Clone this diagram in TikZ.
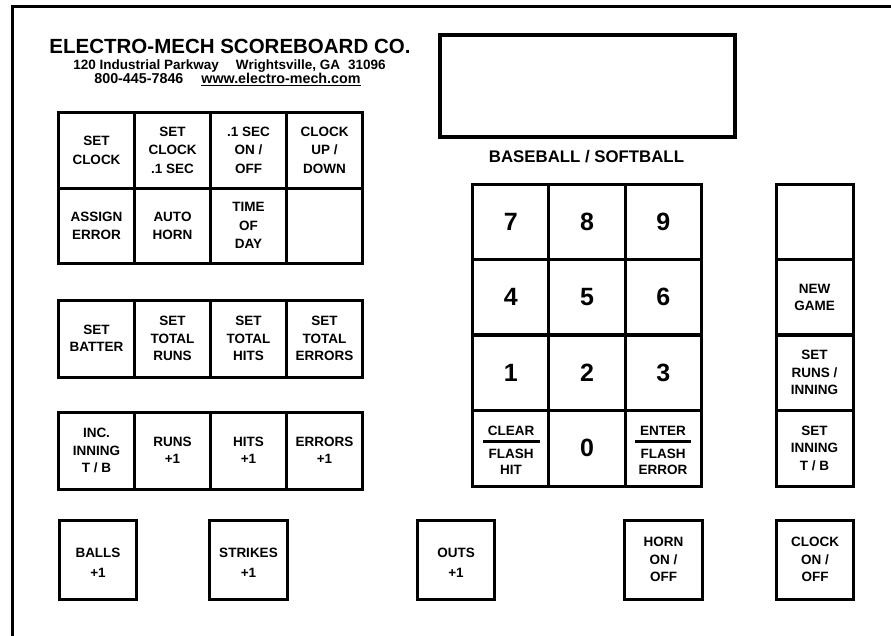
\documentclass[tikz,border=0pt]{standalone}
\usepackage{fontspec}
\setmainfont{Liberation Sans}
\begin{document}
\begin{tikzpicture}[x=1pt,y=-1pt,
  key/.style={draw, line width=3pt, inner sep=0pt, outer sep=0pt,
    minimum width=76pt, minimum height=75.5pt, align=center,
    font=\bfseries\fontsize{13.5}{17.5}\selectfont},
  keyA/.style={key, font=\bfseries\fontsize{13.5}{18.5}\selectfont},
  keyB/.style={key, minimum height=77pt},
  keyP/.style={key, minimum width=76.3pt, minimum height=75.5pt},
  digit/.style={font=\bfseries\fontsize{25}{30}\selectfont},
  small/.style={inner sep=0pt, outer sep=0pt, anchor=base, font=\bfseries\fontsize{13.5}{16}\selectfont},
  bot/.style={key, minimum width=77.5pt, minimum height=79pt},
  bottwo/.style={bot, execute at begin node={\vspace*{0pt}}},
]
\useasboundingbox (0,0) rectangle (891,635);
\clip (0,0) rectangle (891,635);
\fill[white] (0,0) rectangle (891,635);
% outer frame
\draw[line width=3pt] (12,645) -- (12,6) -- (900,6);

% heading
\node[inner sep=0pt, anchor=base, font=\bfseries\fontsize{20.5}{24}\selectfont] (title) at (230,53.3) {ELECTRO-MECH SCOREBOARD CO.};
\node[inner sep=0pt, anchor=base, font=\bfseries\fontsize{13.5}{16}\selectfont] (addr) at (229.5,69) {120 Industrial Parkway\hspace{17pt}Wrightsville, GA\hspace{8pt}31096};
\node[inner sep=0pt, anchor=base, font=\bfseries\fontsize{14.3}{16}\selectfont] (phone) at (227.5,83.3) {800-445-7846\hspace{18pt}\underline{www.electro-mech.com}};

% display
\node[draw, line width=3.5pt, inner sep=0pt, minimum width=295pt, minimum height=102pt] (display) at (587.5,86) {};
\node[inner sep=0pt, anchor=base, font=\bfseries\fontsize{16.8}{20}\selectfont] (sport) at (586.5,162.3) {BASEBALL / SOFTBALL};

% group A
\node[keyA] (a1) at (96.5,150.25) {SET\\CLOCK};
\node[keyA] (a2) at (172.5,150.25) {SET\\CLOCK\\.1 SEC};
\node[keyA] (a3) at (248.5,150.25) {.1 SEC\\ON /\\OFF};
\node[keyA] (a4) at (324.5,150.25) {CLOCK\\UP /\\DOWN};
\node[keyA] (a5) at (96.5,225.75) {ASSIGN\\ERROR};
\node[keyA] (a6) at (172.5,225.75) {AUTO\\HORN};
\node[keyA] (a7) at (248.5,225.75) {TIME\\OF\\DAY};
\node[keyA] (a8) at (324.5,225.75) {};

% group B
\node[keyB] (b1) at (96.5,338.5) {SET\\BATTER};
\node[keyB] (b2) at (172.5,338.5) {SET\\TOTAL\\RUNS};
\node[keyB] (b3) at (248.5,338.5) {SET\\TOTAL\\HITS};
\node[keyB] (b4) at (324.5,338.5) {SET\\TOTAL\\ERRORS};

% group C
\node[keyB] (c1) at (96.5,450.5) {INC.\\INNING\\T / B};
\node[keyB] (c2) at (172.5,450.5) {RUNS\\+1};
\node[keyB] (c3) at (248.5,450.5) {HITS\\+1};
\node[keyB] (c4) at (324.5,450.5) {ERRORS\\+1};

% keypad
\node[keyP, digit] (k7) at (510.75,221.75) {7};
\node[keyP, digit] (k8) at (587,221.75) {8};
\node[keyP, digit] (k9) at (663.25,221.75) {9};
\node[keyP, digit] (k4) at (510.75,297.25) {4};
\node[keyP, digit] (k5) at (587,297.25) {5};
\node[keyP, digit] (k6) at (663.25,297.25) {6};
\node[keyP, digit] (k1) at (510.75,372.5) {1};
\node[keyP, digit] (k2) at (587,372.5) {2};
\node[keyP, digit] (k3) at (663.25,372.5) {3};
\node[keyP, minimum height=76pt] (kclr) at (510.75,448) {};
\node[keyP, digit, minimum height=76pt] (k0) at (587,448) {0};
\node[keyP, minimum height=76pt] (kent) at (663.25,448) {};
\node[small] (clr) at (511,435) {CLEAR};
\draw[line width=3pt] (483,441.7) -- (540,441.7);
\node[small] (flh1) at (511,458) {FLASH};
\node[small] (flh2) at (511,474.3) {HIT};
\node[small] (ent) at (663,435) {ENTER};
\draw[line width=3pt] (635,441.7) -- (691,441.7);
\node[small] (fle1) at (663,458) {FLASH};
\node[small] (fle2) at (663,474.3) {ERROR};

% right column
\node[keyP, minimum width=77pt] (r1) at (814.5,221.75) {};
\node[keyP, minimum width=77pt] (r2) at (814.5,297.25) {NEW\\GAME};
\node[keyP, minimum width=77pt] (r3) at (814.5,372.5) {SET\\RUNS /\\INNING};
\node[keyP, minimum width=77pt, minimum height=76pt] (r4) at (814.5,448) {SET\\INNING\\T / B};

% bottom row
\node[bot] (balls) at (98,559.5) {};
\node[small] (ballsT) at (98,557) {BALLS};
\node[small] (ballsN) at (98,577) {+1};
\node[bot] (strikes) at (248.5,559.5) {};
\node[small] (strikesT) at (248.5,557) {STRIKES};
\node[small] (strikesN) at (248.5,577) {+1};
\node[bot] (outs) at (456,559.5) {};
\node[small] (outsT) at (456,557) {OUTS};
\node[small] (outsN) at (456,577) {+1};
\node[bot] (horn) at (663.5,559.5) {HORN\\ON /\\OFF};
\node[bot] (clock) at (815,559.5) {CLOCK\\ON /\\OFF};
\end{tikzpicture}
\end{document}
